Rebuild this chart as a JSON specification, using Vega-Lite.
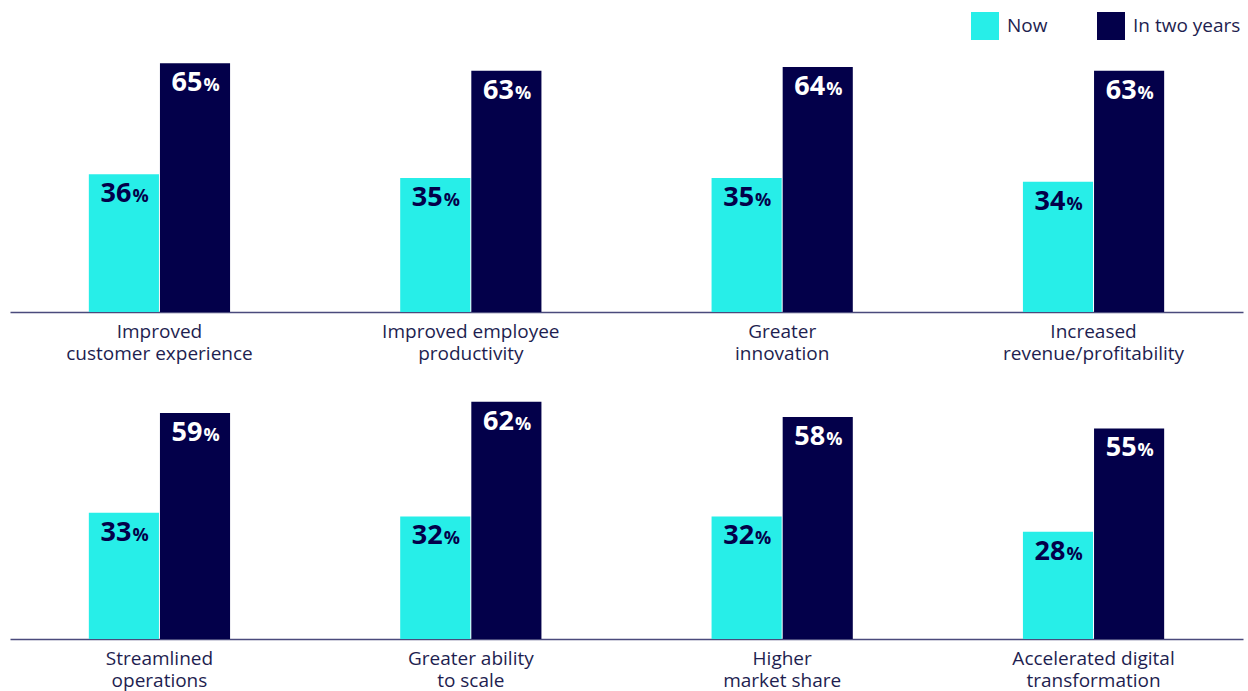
{
  "$schema": "https://vega.github.io/schema/vega-lite/v6.json",
  "padding": {"left": 10, "top": 12, "right": 5, "bottom": 0},
  "background": "white",
  "data": {
    "values": [
      {"row": 1, "category": "Improved|customer experience", "series": "Now", "value": 36},
      {"row": 1, "category": "Improved|customer experience", "series": "In two years", "value": 65},
      {"row": 1, "category": "Improved employee|productivity", "series": "Now", "value": 35},
      {"row": 1, "category": "Improved employee|productivity", "series": "In two years", "value": 63},
      {"row": 1, "category": "Greater|innovation", "series": "Now", "value": 35},
      {"row": 1, "category": "Greater|innovation", "series": "In two years", "value": 64},
      {"row": 1, "category": "Increased|revenue/profitability", "series": "Now", "value": 34},
      {"row": 1, "category": "Increased|revenue/profitability", "series": "In two years", "value": 63},
      {"row": 2, "category": "Streamlined|operations", "series": "Now", "value": 33},
      {"row": 2, "category": "Streamlined|operations", "series": "In two years", "value": 59},
      {"row": 2, "category": "Greater ability|to scale", "series": "Now", "value": 32},
      {"row": 2, "category": "Greater ability|to scale", "series": "In two years", "value": 62},
      {"row": 2, "category": "Higher|market share", "series": "Now", "value": 32},
      {"row": 2, "category": "Higher|market share", "series": "In two years", "value": 58},
      {"row": 2, "category": "Accelerated digital|transformation", "series": "Now", "value": 28},
      {"row": 2, "category": "Accelerated digital|transformation", "series": "In two years", "value": 55}
    ]
  },
  "config": {
    "view": {"stroke": null},
    "font": "Open Sans",
    "axis": {"labelFont": "Open Sans"},
    "legend": {"labelFont": "Open Sans"}
  },
  "resolve": {"scale": {"color": "shared"}},
  "spacing": 7,
  "vconcat": [
    {
      "width": 1233,
      "height": 268,
      "transform": [{"filter": "datum.row === 1"}],
      "encoding": {
        "x": {"field": "category", "type": "nominal", "sort": null,
          "scale": {"paddingInner": 0.54, "paddingOuter": 0.25},
          "axis": {"title": null, "labelExpr": "split(datum.label, '|')", "labelAngle": 0, "ticks": false, "labelPadding": 10, "labelFontSize": 19, "labelLineHeight": 22.5, "labelColor": "#1E1E50", "domainColor": "#4A4A7C", "domainWidth": 1.5, "labelLimit": 400}},
        "xOffset": {"field": "series", "type": "nominal", "sort": ["Now", "In two years"], "scale": {"paddingInner": 0.014, "paddingOuter": 0.014}},
        "y": {"field": "value", "type": "quantitative", "scale": {"domain": [0, 70]}, "axis": null}
      },
      "layer": [
        {
          "mark": {"type": "bar"},
          "encoding": {
            "color": {"field": "series", "type": "nominal", "sort": ["Now", "In two years"],
              "scale": {"domain": ["Now", "In two years"], "range": ["#27EEE8", "#03004A"]},
              "legend": {"title": null, "orient": "none", "legendX": 961, "legendY": -32, "direction": "horizontal", "symbolType": "square", "symbolSize": 784, "symbolStrokeWidth": 0, "symbolOpacity": 1, "labelFontSize": 19, "labelColor": "#1E1E50", "labelOffset": 8, "columnPadding": 49, "padding": 0}}
          }
        },
        {
          "mark": {"type": "text", "align": "right", "baseline": "alphabetic", "dx": 7.5, "dy": 28, "fontSize": 27, "fontWeight": "bold"},
          "encoding": {
            "text": {"field": "value", "type": "quantitative"},
            "color": {"condition": {"test": "datum.series === 'Now'", "value": "#03004A"}, "value": "white"}
          }
        },
        {
          "mark": {"type": "text", "text": "%", "align": "left", "baseline": "alphabetic", "dx": 8.5, "dy": 28, "fontSize": 18, "fontWeight": "bold"},
          "encoding": {
            "color": {"condition": {"test": "datum.series === 'Now'", "value": "#03004A"}, "value": "white"}
          }
        }
      ]
    },
    {
      "width": 1233,
      "height": 268,
      "transform": [{"filter": "datum.row === 2"}],
      "encoding": {
        "x": {"field": "category", "type": "nominal", "sort": null,
          "scale": {"paddingInner": 0.54, "paddingOuter": 0.25},
          "axis": {"title": null, "labelExpr": "split(datum.label, '|')", "labelAngle": 0, "ticks": false, "labelPadding": 10, "labelFontSize": 19, "labelLineHeight": 22.5, "labelColor": "#1E1E50", "domainColor": "#4A4A7C", "domainWidth": 1.5, "labelLimit": 400}},
        "xOffset": {"field": "series", "type": "nominal", "sort": ["Now", "In two years"], "scale": {"paddingInner": 0.014, "paddingOuter": 0.014}},
        "y": {"field": "value", "type": "quantitative", "scale": {"domain": [0, 70]}, "axis": null}
      },
      "layer": [
        {
          "mark": {"type": "bar"},
          "encoding": {
            "color": {"field": "series", "type": "nominal", "sort": ["Now", "In two years"],
              "scale": {"domain": ["Now", "In two years"], "range": ["#27EEE8", "#03004A"]},
              "legend": {"title": null, "orient": "none", "legendX": 961, "legendY": -32, "direction": "horizontal", "symbolType": "square", "symbolSize": 784, "symbolStrokeWidth": 0, "symbolOpacity": 1, "labelFontSize": 19, "labelColor": "#1E1E50", "labelOffset": 8, "columnPadding": 49, "padding": 0}}
          }
        },
        {
          "mark": {"type": "text", "align": "right", "baseline": "alphabetic", "dx": 7.5, "dy": 28, "fontSize": 27, "fontWeight": "bold"},
          "encoding": {
            "text": {"field": "value", "type": "quantitative"},
            "color": {"condition": {"test": "datum.series === 'Now'", "value": "#03004A"}, "value": "white"}
          }
        },
        {
          "mark": {"type": "text", "text": "%", "align": "left", "baseline": "alphabetic", "dx": 8.5, "dy": 28, "fontSize": 18, "fontWeight": "bold"},
          "encoding": {
            "color": {"condition": {"test": "datum.series === 'Now'", "value": "#03004A"}, "value": "white"}
          }
        }
      ]
    }
  ]
}
